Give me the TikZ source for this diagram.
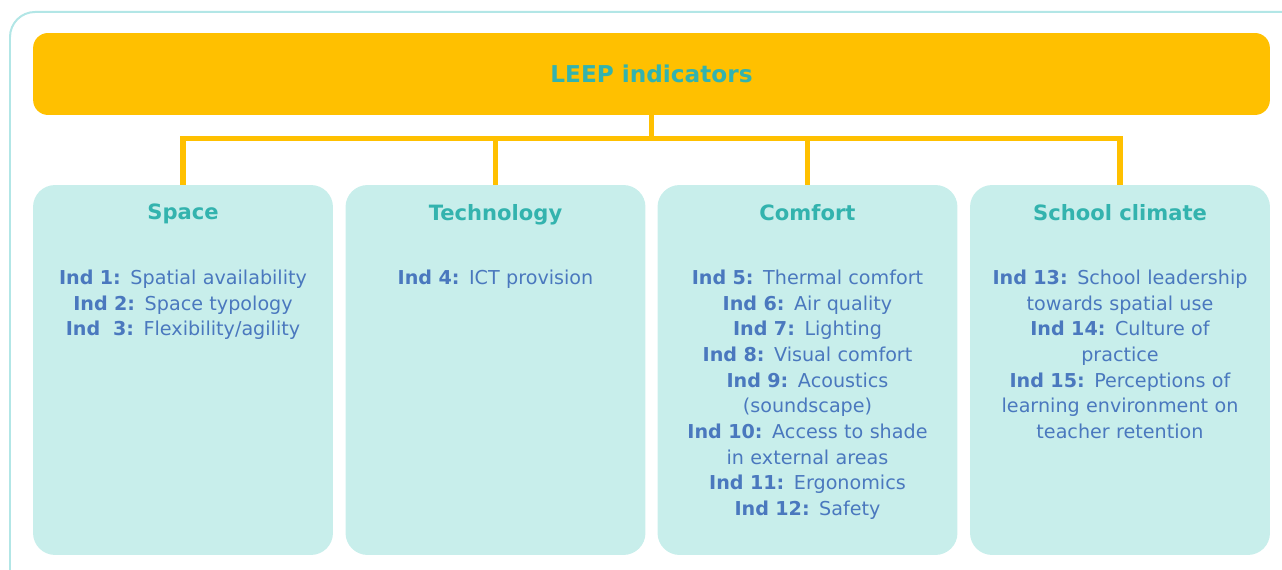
\documentclass[tikz,border=0pt]{standalone}
\usepackage{fontspec}
\setmainfont{DejaVu Sans}
\usetikzlibrary{positioning}
\definecolor{leepyellow}{HTML}{FFC000}
\definecolor{leepteal}{HTML}{33B3AE}
\definecolor{leepblue}{HTML}{4A78BE}
\definecolor{boxfill}{HTML}{C8EEEB}
\definecolor{framecol}{HTML}{B2E6E6}

\begin{document}
\begin{tikzpicture}[x=0.02cm, y=-0.02cm,
	frame/.style={draw=framecol, line width=0.04cm, rounded corners=0.5cm},
	title/.style={fill=leepyellow, rounded corners=0.3cm, minimum width=24.74cm, minimum height=1.64cm,
		text=leepteal, font=\fontsize{13.2}{16}\selectfont\bfseries},
	group/.style={fill=boxfill, rounded corners=0.44cm, minimum width=6cm, minimum height=7.4cm},
	head/.style={inner sep=0pt, text=leepteal, font=\fontsize{12}{14}\selectfont\bfseries},
	body/.style={inner sep=0pt, align=center, text width=5.7cm, text=leepblue,
		font=\fontsize{10.9}{14.6}\selectfont},
	link/.style={draw=leepyellow, line width=0.11cm}]

\useasboundingbox (0,0) rectangle (1282,570);
\clip (0,0) rectangle (1282,570);
\draw[frame] (10,12) rectangle (1310,600);

\node[title] (title) at (651.5,74) {LEEP indicators};

\node[group] (space) at (183,370) {};
\node[group] (tech) at (495.5,370) {};
\node[group] (comfort) at (807.5,370) {};
\node[group] (climate) at (1120,370) {};

\draw[link] (title.south) -- ++(0,23) -| (space.north);
\draw[link] (title.south) -- ++(0,23) -| (tech.north);
\draw[link] (title.south) -- ++(0,23) -| (comfort.north);
\draw[link] (title.south) -- ++(0,23) -| (climate.north);

\node[head, below=0.38cm of space.north] (spacehead) {Space};
\node[head, below=0.38cm of tech.north] (techhead) {Technology};
\node[head, below=0.38cm of comfort.north] (comforthead) {Comfort};
\node[head, below=0.38cm of climate.north] (climatehead) {School climate};

\node[body, below=1.32cm of spacehead.north] (spacebody) {
	\textbf{Ind 1:} Spatial availability\\
	\textbf{Ind 2:} Space typology\\
	\textbf{Ind\ \ 3:} Flexibility/agility};
\node[body, below=1.32cm of techhead.north] (techbody) {
	\textbf{Ind 4:} ICT provision};
\node[body, below=1.32cm of comforthead.north] (comfortbody) {
	\textbf{Ind 5:} Thermal comfort\\
	\textbf{Ind 6:} Air quality\\
	\textbf{Ind 7:} Lighting\\
	\textbf{Ind 8:} Visual comfort\\
	\textbf{Ind 9:} Acoustics\\
	(soundscape)\\
	\textbf{Ind 10:} Access to shade\\
	in external areas\\
	\textbf{Ind 11:} Ergonomics\\
	\textbf{Ind 12:} Safety};
\node[body, below=1.32cm of climatehead.north] (climatebody) {
	\textbf{Ind 13:} School leadership\\
	towards spatial use\\
	\textbf{Ind 14:} Culture of\\
	practice\\
	\textbf{Ind 15:} Perceptions of\\
	learning environment on\\
	teacher retention};
\end{tikzpicture}
\end{document}
